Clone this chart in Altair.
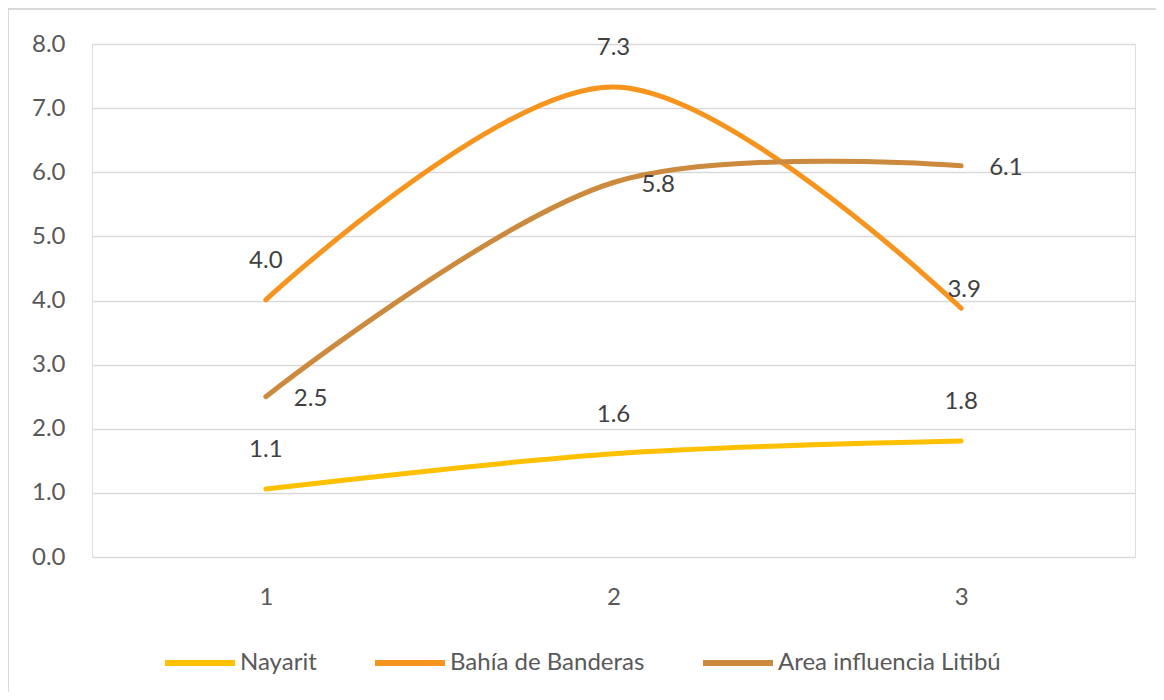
import altair as alt
import pandas as pd

categories = ["1", "2", "3"]
series_names = ["Nayarit", "Bahía de Banderas", "Area influencia Litibú"]
nayarit = [1.06, 1.61, 1.81]
bahia = [4.01, 7.33, 3.88]
litibu = [2.50, 5.84, 6.10]
colors = ["#FFC000", "#F7941E", "#CB8A3D"]
y_ticks = [0, 1, 2, 3, 4, 5, 6, 7, 8]

rows = []
for name, vals in zip(series_names, [nayarit, bahia, litibu]):
    for c, v in zip(categories, vals):
        rows.append({"cat": c, "serie": name, "valor": v})
df = pd.DataFrame(rows)

FONT = "Lato"
FS = 24

x_enc = alt.X("cat:O", scale=alt.Scale(type="point", padding=0.5),
              axis=alt.Axis(title=None, labelAngle=0, domain=False, ticks=False,
                            labelPadding=28, labelFontSize=FS, labelColor="#595959",
                            labelFont=FONT, grid=False))
y_enc = alt.Y("valor:Q", scale=alt.Scale(domain=[0, 8]),
              axis=alt.Axis(title=None, values=y_ticks, format=".1f", domain=False, ticks=False,
                            labelPadding=27, labelFontSize=FS, labelColor="#595959",
                            labelFont=FONT, gridColor="#D9D9D9", gridWidth=1.5))
color_enc = alt.Color("serie:N", scale=alt.Scale(domain=series_names, range=colors),
                      legend=alt.Legend(title=None, orient="none", direction="horizontal",
                                        legendX=70, legendY=581,
                                        symbolType="stroke", symbolSize=4900,
                                        symbolStrokeWidth=6, labelFontSize=FS,
                                        labelFont=FONT, labelColor="#595959",
                                        labelLimit=0, labelOffset=2, columnPadding=46))

base = alt.Chart(df)

border = alt.Data(values=[{"a": 1}])
top_rule = alt.Chart(border).mark_rule(stroke="#D9D9D9", strokeWidth=2).encode(
    x=alt.value(-85), x2=alt.value(1070), y=alt.value(-35))
left_rule = alt.Chart(border).mark_rule(stroke="#D9D9D9", strokeWidth=2).encode(
    x=alt.value(-84), y=alt.value(-36), y2=alt.value(660))

lines = base.mark_line(interpolate="catmull-rom", strokeWidth=5, strokeCap="round").encode(
    x=x_enc, y=y_enc, color=color_enc)

label_kw = dict(fontSize=FS, font=FONT, color="#404040", baseline="middle")

above = base.transform_filter(
    "datum.serie != 'Area influencia Litibú' && !(datum.serie == 'Bahía de Banderas' && datum.cat == '3')"
).mark_text(dy=-39, align="center", **label_kw).encode(
    x="cat:O", y="valor:Q", text=alt.Text("valor:Q", format=".1f"))

near = base.transform_filter(
    "datum.serie == 'Bahía de Banderas' && datum.cat == '3'"
).mark_text(dy=-18, dx=3, align="center", **label_kw).encode(
    x="cat:O", y="valor:Q", text=alt.Text("valor:Q", format=".1f"))

right = base.transform_filter(
    "datum.serie == 'Area influencia Litibú'"
).mark_text(dx=28, dy=2, align="left", **label_kw).encode(
    x="cat:O", y="valor:Q", text=alt.Text("valor:Q", format=".1f"))

chart = alt.layer(top_rule, left_rule, lines, above, near, right).properties(
    width=1043, height=513,
    autosize=alt.AutoSizeParams(type="none"),
    padding={"left": 84, "top": 36, "right": 21, "bottom": 135},
).configure_view(stroke=None).configure(background="white")

chart.save("out.html", embed_options={"renderer": "svg", "actions": False})
